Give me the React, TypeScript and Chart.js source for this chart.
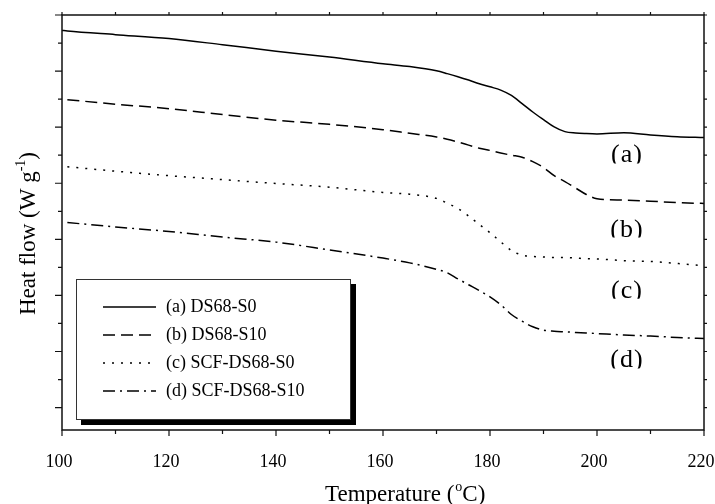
import React, { useEffect, useRef } from 'react';
import { Chart, registerables } from 'chart.js';

Chart.register(...registerables);

// Temperature grid (°C)
const temperatures = [100, 101, 110, 120, 130, 140, 150, 160, 165, 170, 172, 174, 176, 178, 180, 182, 184, 186, 188, 190, 192, 194, 196, 198, 200, 205, 210, 215, 220];

// Heat flow (arbitrary offset units, curves stacked)
const seriesA = [13.45, 13.43, 13.30, 13.16, 12.94, 12.71, 12.50, 12.26, 12.16, 12.01, 11.91, 11.80, 11.68, 11.55, 11.44, 11.32, 11.13, 10.84, 10.54, 10.27, 10.01, 9.84, 9.79, 9.77, 9.76, 9.80, 9.72, 9.66, 9.63];
const seriesB = [null, 10.98, 10.82, 10.66, 10.45, 10.25, 10.10, 9.91, 9.78, 9.65, 9.57, 9.47, 9.36, 9.25, 9.17, 9.08, 9.00, 8.93, 8.77, 8.56, 8.27, 8.06, 7.83, 7.60, 7.45, 7.40, 7.36, 7.31, 7.28];
const seriesC = [null, 8.59, 8.43, 8.27, 8.13, 7.99, 7.86, 7.67, 7.61, 7.46, 7.29, 7.10, 6.83, 6.53, 6.24, 5.91, 5.60, 5.44, 5.39, 5.37, 5.35, 5.35, 5.33, 5.31, 5.30, 5.24, 5.21, 5.14, 5.06];
const seriesD = [null, 6.60, 6.44, 6.28, 6.08, 5.90, 5.62, 5.33, 5.16, 4.93, 4.81, 4.59, 4.38, 4.17, 3.95, 3.67, 3.32, 3.08, 2.88, 2.76, 2.72, 2.70, 2.68, 2.66, 2.64, 2.59, 2.55, 2.50, 2.46];

const seriesLabels = ['(a) DS68-S0', '(b) DS68-S10', '(c) SCF-DS68-S0', '(d) SCF-DS68-S10'];
const curveTags = ['(a)', '(b)', '(c)', '(d)'];
const curveTagLevels = [8.74, 6.10, 3.92, 1.43];
const xTickStep = 10;
const xLabelStep = 20;

const SERIF = "'Liberation Serif', 'Times New Roman', serif";

const decorPlugin = {
  id: 'decor',
  afterDraw(chart: any) {
    const ctx: CanvasRenderingContext2D = chart.ctx;
    const { left, right, top, bottom } = chart.chartArea;
    const xs = chart.scales.x;
    const ys = chart.scales.y;
    ctx.save();

    // frame
    ctx.strokeStyle = '#111';
    ctx.lineWidth = 1.5;
    ctx.setLineDash([]);
    ctx.strokeRect(left, top, right - left, bottom - top);

    // ticks
    ctx.lineWidth = 1.2;
    ctx.beginPath();
    xs.ticks.forEach((t: any) => {
      const v = t.value;
      if (Math.abs(v - Math.round(v)) > 1e-6) return;
      const px = xs.getPixelForValue(v);
      const major = Math.round(v) % xLabelStep === 0;
      ctx.moveTo(px, bottom);
      ctx.lineTo(px, bottom + (major ? 6 : 4));
      ctx.moveTo(px, top);
      ctx.lineTo(px, top - 3);
    });
    ys.ticks.forEach((t: any) => {
      const v = t.value;
      if (Math.abs(v - Math.round(v)) > 1e-6) return;
      const py = ys.getPixelForValue(v);
      const major = Math.round(v) % 2 === 0;
      ctx.moveTo(left, py);
      ctx.lineTo(left - (major ? 7 : 4), py);
      ctx.moveTo(right, py);
      ctx.lineTo(right + 3, py);
    });
    ctx.stroke();

    // legend box with shadow
    const lx = left + 14;
    const ly = 279;
    const lw = 275;
    const lh = 141;
    ctx.fillStyle = '#000';
    ctx.fillRect(lx + 5, ly + 5, lw, lh);
    ctx.fillStyle = '#fff';
    ctx.fillRect(lx, ly, lw, lh);
    ctx.lineWidth = 1;
    ctx.strokeStyle = '#333';
    ctx.strokeRect(lx + 0.5, ly + 0.5, lw - 1, lh - 1);
    ctx.font = `18px ${SERIF}`;
    ctx.textBaseline = 'middle';
    ctx.textAlign = 'left';
    chart.data.datasets.forEach((ds: any, i: number) => {
      const cy = ly + 28 + i * 28;
      ctx.strokeStyle = '#000';
      ctx.lineWidth = 1.5;
      ctx.setLineDash(ds.borderDash || []);
      ctx.beginPath();
      ctx.moveTo(lx + 27, cy);
      ctx.lineTo(lx + 80, cy);
      ctx.stroke();
      ctx.setLineDash([]);
      ctx.fillStyle = '#000';
      ctx.fillText(ds.label, lx + 90, cy);
    });

    // curve tags (a)-(d), bottom clipped like the original
    ctx.font = `26px ${SERIF}`;
    (ctx as any).letterSpacing = '1px';
    ctx.textBaseline = 'alphabetic';
    ctx.textAlign = 'center';
    curveTags.forEach((tag, i) => {
      const bx = xs.getPixelForValue(205.6);
      const by = ys.getPixelForValue(curveTagLevels[i]);
      ctx.save();
      ctx.beginPath();
      ctx.rect(bx - 40, by - 40, 80, 41);
      ctx.clip();
      ctx.fillStyle = '#000';
      ctx.fillText(tag, bx, by);
      ctx.restore();
    });
    (ctx as any).letterSpacing = '0px';

    // axis titles
    ctx.fillStyle = '#000';
    ctx.textAlign = 'left';
    ctx.textBaseline = 'alphabetic';
    // x title
    let x = 325;
    const xb = 501;
    ctx.font = `23px ${SERIF}`;
    ctx.fillText('Temperature (', x, xb);
    x += ctx.measureText('Temperature (').width;
    ctx.font = `14px ${SERIF}`;
    ctx.fillText('o', x + 1, xb - 10);
    x += ctx.measureText('o').width + 1;
    ctx.font = `23px ${SERIF}`;
    ctx.fillText('C)', x, xb);

    // y title (rotated)
    ctx.save();
    ctx.translate(35, 315);
    ctx.rotate(-Math.PI / 2);
    let y = 0;
    ctx.font = `23px ${SERIF}`;
    ctx.fillText('Heat flow (W g', y, 0);
    y += ctx.measureText('Heat flow (W g').width;
    ctx.font = `14px ${SERIF}`;
    ctx.fillText('-1', y, -10);
    y += ctx.measureText('-1').width;
    ctx.font = `23px ${SERIF}`;
    ctx.fillText(')', y, 0);
    ctx.restore();

    ctx.restore();
  },
};

export default function App() {
  const canvasRef = useRef<HTMLCanvasElement | null>(null);

  useEffect(() => {
    const canvas = canvasRef.current;
    if (!canvas) return;
    const mk = (arr: (number | null)[]) => temperatures.map((t, i) => ({ x: t, y: arr[i] }));
    const dashes = [[], [12, 6], [2, 7], [12, 5, 2, 5]];
    const all = [seriesA, seriesB, seriesC, seriesD];
    const chart = new Chart(canvas, {
      type: 'line',
      data: {
        datasets: all.map((arr, i) => ({
          label: seriesLabels[i],
          data: mk(arr),
          borderColor: '#000',
          backgroundColor: '#000',
          borderWidth: 1.5,
          borderDash: dashes[i],
          pointRadius: 0,
          cubicInterpolationMode: 'monotone',
          fill: false,
        })),
      },
      options: {
        responsive: false,
        animation: false,
        devicePixelRatio: 1,
        layout: { padding: { left: 0, right: 11, top: 15, bottom: 0 } },
        plugins: {
          legend: { display: false },
          tooltip: { enabled: false },
        },
        scales: {
          x: {
            type: 'linear',
            min: 100,
            max: 220,
            grid: { display: false },
            border: { display: false },
            ticks: {
              stepSize: xTickStep,
              autoSkip: false,
              maxRotation: 0,
              padding: 13,
              labelOffset: -3,
              color: '#000',
              font: { family: SERIF, size: 18 },
              callback: (v: any) => (Math.round(v) % xLabelStep === 0 ? String(v) : ''),
            },
            afterFit: (s: any) => {
              s.height = 74;
              s.paddingLeft = 0;
              s.paddingRight = 0;
            },
          },
          y: {
            type: 'linear',
            min: -0.8,
            max: 14,
            grid: { display: false },
            border: { display: false },
            ticks: { stepSize: 1, display: false },
            afterFit: (s: any) => {
              s.width = 62;
              s.paddingTop = 0;
              s.paddingBottom = 0;
            },
          },
        },
      } as any,
      plugins: [decorPlugin],
    });
    return () => chart.destroy();
  }, []);

  return (
    <div style={{ position: 'absolute', left: 0, top: 0, width: 715, height: 504, background: '#fff' }}>
      <canvas ref={canvasRef} width={715} height={504} style={{ display: 'block' }} />
    </div>
  );
}
